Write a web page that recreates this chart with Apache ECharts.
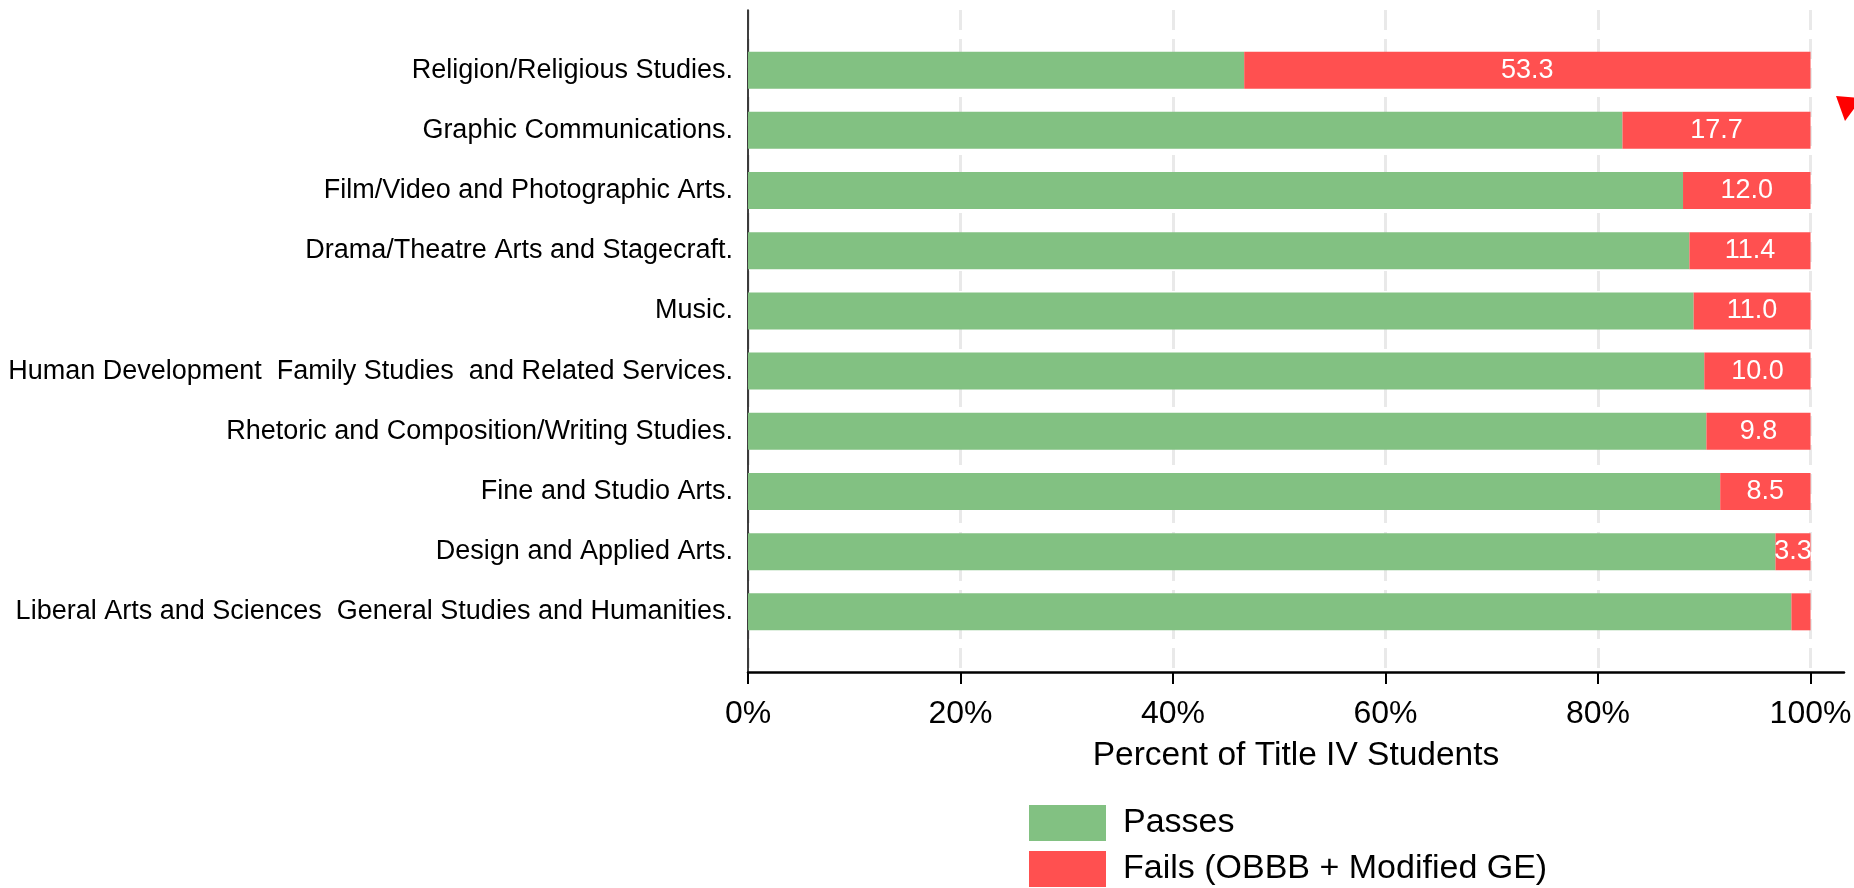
<!DOCTYPE html>
<html lang="en">
<head>
	<meta charset="UTF-8">
	<title>Percent of Title IV Students</title>
	<style type="text/css">
		html, body { margin: 0; padding: 0; background: #fff; }
		#container { width: 1854px; height: 888px; }
	</style>
	<script type="text/javascript" src="https://cdn.jsdelivr.net/npm/echarts/dist/echarts.min.js"></script>
</head>
<body>
	<div id="container"></div>
	<script type="text/javascript">
	// programs, top to bottom
	var programs = [
		'Religion/Religious Studies.',
		'Graphic Communications.',
		'Film/Video and Photographic Arts.',
		'Drama/Theatre Arts and Stagecraft.',
		'Music.',
		'Human Development  Family Studies  and Related Services.',
		'Rhetoric and Composition/Writing Studies.',
		'Fine and Studio Arts.',
		'Design and Applied Arts.',
		'Liberal Arts and Sciences  General Studies and Humanities.'
	];
	// share failing (OBBB + Modified GE), percent
	var failsPct = [53.3, 17.7, 12.0, 11.4, 11.0, 10.0, 9.8, 8.5, 3.3, 1.8];
	// share passing, percent
	var passesPct = [46.7, 82.3, 88.0, 88.6, 89.0, 90.0, 90.2, 91.5, 96.7, 98.2];
	var xTicks = [0, 20, 40, 60, 80, 100];

	var FONT = '"Liberation Sans", Arial, Helvetica, sans-serif';

	// empty slot above and below so the bars sit one band away from the axis ends
	var cats = [''].concat(programs, ['']);
	var pad = function (arr) { return [null].concat(arr, [null]); };

	var dom = document.getElementById("container");
	var myChart = echarts.init(dom);
	var option = {
		animation: false,
		backgroundColor: '#ffffff',
		textStyle: { fontFamily: FONT },
		grid: {
			left: 748,
			right: 10,
			top: 10,
			bottom: 216,
			outerBoundsMode: 'none'
		},
		legend: {
			orient: 'vertical',
			left: 1029,
			top: 805,
			padding: 0,
			height: 90,
			icon: 'rect',
			itemWidth: 77,
			itemHeight: 36,
			itemGap: 10,
			selectedMode: false,
			textStyle: {
				fontFamily: FONT,
				fontSize: 34,
				color: '#000',
				padding: [0, 0, 0, 12]
			},
			data: ['Passes', 'Fails (OBBB + Modified GE)']
		},
		xAxis: {
			type: 'value',
			min: 0,
			max: 103.15,
			name: 'Percent of Title IV Students',
			nameLocation: 'middle',
			nameGap: 67,
			nameTextStyle: { fontFamily: FONT, fontSize: 33.5, color: '#000' },
			axisLine: { show: true, lineStyle: { color: '#000', width: 2.5 } },
			axisTick: {
				show: true,
				length: 12,
				customValues: xTicks,
				lineStyle: { color: '#000', width: 2 }
			},
			axisLabel: {
				customValues: xTicks,
				margin: 26,
				fontFamily: FONT,
				fontSize: 32,
				color: '#000',
				formatter: function (v) {
					return xTicks.indexOf(v) >= 0 ? v + '%' : '';
				}
			},
			splitLine: {
				show: true,
				lineStyle: { color: '#e9e9e9', width: 3, type: [20, 9] }
			}
		},
		yAxis: {
			type: 'category',
			data: cats,
			inverse: true,
			boundaryGap: false,
			axisLine: { show: true, lineStyle: { color: '#000', width: 1.5 } },
			axisTick: { show: false },
			splitLine: { show: false },
			axisLabel: {
				interval: 0,
				margin: 15,
				fontFamily: FONT,
				fontSize: 27,
				color: '#000'
			}
		},
		series: [
			{
				name: 'Passes',
				type: 'bar',
				stack: 'total',
				barWidth: 37,
				itemStyle: { color: '#82c182' },
				data: pad(passesPct)
			},
			{
				name: 'Fails (OBBB + Modified GE)',
				type: 'bar',
				stack: 'total',
				barWidth: 37,
				itemStyle: { color: '#ff5050' },
				label: {
					show: true,
					position: 'inside',
					color: '#fff',
					fontFamily: FONT,
					fontSize: 27,
					formatter: function (p) {
						return p.value >= 3 ? p.value.toFixed(1) : '';
					}
				},
				data: pad(failsPct)
			}
		],
		graphic: [
			{
				// annotation arrowhead cut by the right edge
				type: 'polygon',
				shape: { points: [[1836, 96], [1862, 98], [1845, 121]] },
				style: { fill: '#ff0000' }
			}
		]
	};
	myChart.setOption(option, true);
	</script>
</body>
</html>
